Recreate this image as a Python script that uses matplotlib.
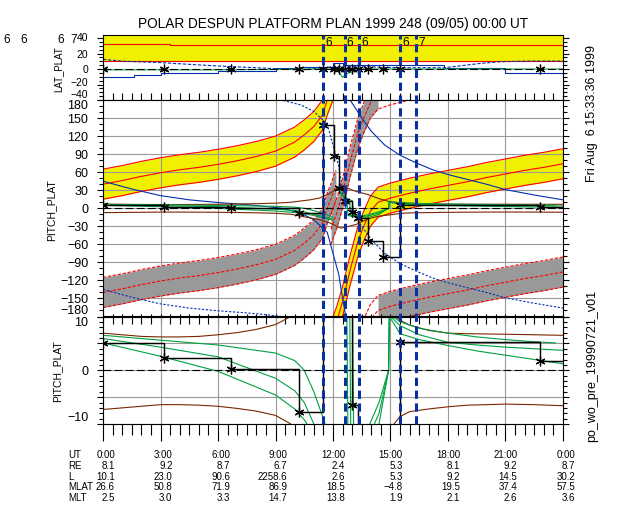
import matplotlib
matplotlib.use('Agg')
import matplotlib.pyplot as plt
import numpy as np
from matplotlib.lines import Line2D
from matplotlib.ticker import MultipleLocator
from matplotlib.transforms import ScaledTranslation

plt.rcParams['font.family'] = ['Liberation Sans', 'DejaVu Sans']

# ---- values (time axis in UT hours) ----
# platform pitch cone centre, two branches either side of the wrap near 12 UT
hours_A = [0, 1, 2, 3, 4, 5, 6, 7, 8, 9, 10, 10.5, 11, 11.45, 11.7, 12.0, 12.15]
centre_A = [40, 46, 53, 59, 64, 68, 73, 79, 86, 95, 110, 122, 136, 155, 180, 205, 218]
hours_B = [11.9, 12.0, 12.2, 12.5, 12.9, 13.3, 13.6, 13.95, 14.35, 15.0, 15.5, 16, 17,
           18, 19, 20, 21, 22, 23, 24]
centre_B = [-215, -205, -188, -155, -102, -55, -30, -5, 10, 17, 21, 25, 32,
            38, 44, 51, 57, 63, 68, 74]
half_width = 25
gray_split = 14.35

blue_tA = [0, 1.5, 3, 4.5, 6, 7.5, 8.5, 9.3, 10.3, 11.0, 11.7, 12.0, 12.3, 12.5, 12.7]
blue_A = [45, 32, 21, 14, 9.5, 6, 3, 0, -8, -19, -40, -75, -110, -150, -185]
blue_tB = [12.85, 13.2, 13.5, 14.0, 14.7, 15.5, 16.3, 17.2, 18, 19, 20, 21, 22.5, 24]
blue_B = [182, 165, 150, 128, 105, 88, 76, 64, 56, 48, 40, 31, 22, 14]

brown_t = [0, 1, 2, 3, 4, 5, 6, 7, 8, 9, 9.8, 10.3, 10.8, 11.3, 11.8, 12.2, 12.4, 12.7,
           13.2, 13.8, 14.4, 14.95, 15.5, 16, 17, 18, 19, 21, 22.5, 24]
brown_hi = [6.9, 6.6, 6.3, 6.2, 6.2, 6.3, 6.6, 7.0, 7.6, 8.5, 10, 12, 14, 17, 24, 33, 37, 34,
            28, 23, 16, 11, 9.3, 8.4, 7.4, 6.9, 6.8, 6.7, 6.6, 6.5]
brown_lo = [-7.3, -7.0, -6.7, -6.4, -6.4, -6.5, -6.7, -7.1, -7.6, -8.4, -10, -13, -16, -19,
            -24, -30, -33, -31, -27, -18, -13, -11, -8.6, -7.7, -7.2, -6.8, -6.5, -6.3, -6.4, -6.6]

green_tA = [0, 3, 6, 9, 10, 10.5, 11, 11.5, 12.0]
green1_A = [6.5, 5.6, 4.7, 3.2, 1.8, 0, -4, -9, -15]
green2_A = [5.9, 4.3, 2.5, -1.5, -3.8, -6, -10, -14, -18]
green3_A = [5.1, 2.6, -0.2, -4.6, -7.2, -9.2, -12, -16, -20]
green1_t = [12.3, 12.72, 12.78, 13.3, 13.8, 14.4, 14.9, 14.94, 15.5, 16.5, 18, 19.5, 21, 22.5, 23.6]
green1_v = [30, 12, -12, -16, -16, -10, 0, 10.5, 9.0, 7.8, 6.9, 6.2, 5.7, 5.3, 5.1]
green2_t = [12.4, 12.87, 12.93, 13.3, 13.8, 14.4, 14.9, 14.94, 15.5, 16.5, 18, 19.5, 21, 22.5, 24]
green2_v = [25, 12, -12, -14, -13, -8, 0, 10.2, 8.3, 6.6, 5.2, 4.7, 4.3, 4.0, 3.7]
green3_t = [12.5, 13.02, 13.08, 13.4, 13.8, 14.4, 14.9, 14.94, 15.5, 16.5, 18, 19.5, 21, 22.5, 24]
green3_v = [20, 12, -12, -13, -11, -6, 0, 10.0, 6.8, 5.7, 4.6, 3.6, 2.8, 2.0, 1.2]

mark_t = [0, 3.2, 6.7, 10.2, 11.5, 12.05, 12.33, 12.6, 13.0, 13.3, 13.8, 14.6, 15.5, 22.8]
mark_pitch = [5.1, 2.2, 0.3, -7.8, 139, 87, 33, 12, -6.4, -17, -55, -81, 5.2, 1.8]

# LAT_PLAT panel
lat_band = (10, 44)
lat_red_t = [0, 3.5, 3.5, 24]
lat_red_v = [32, 32, 31, 31]
lat_dash_t = [0, 1.1, 2.8, 5.1, 6.8, 8.6, 10.3, 12, 13.5, 15.5, 17.8, 19.7, 20.7, 22.1, 24]
lat_dash_v = [12.5, 10, 8.6, 5.2, 3, 1, -1.3, 3, 3, 1.7, 1.7, 7.3, 9.4, 10.3, 10.3]
lat_blue_t = [0, 1.6, 3, 6, 9, 10.3, 11.3, 12, 12.5, 15.5, 17.8, 21, 24]
lat_blue_v = [-10.7, -7.7, -5.6, -2.2, 1, 3, 3, 7.3, 5, 5.2, 0.9, -5.6, -6.5]
lat_green_t = [0, 6, 11, 12.2, 12.5, 12.8, 13.05, 13.5, 24]
lat_green_v = [-1, -1, 0, 0, -10.7, -5, -3.5, 0, 0]

event_t = [11.47, 12.6, 13.35, 15.5, 16.32]
event_lbl = ['6', '6', '6', '6', '7']

table_hours = [0, 3, 6, 9, 12, 15, 18, 21, 24]
table_rows = [
    ('UT', ['0:00', '3:00', '6:00', '9:00', '12:00', '15:00', '18:00', '21:00', '0:00']),
    ('RE', ['8.1', '9.2', '8.7', '6.7', '2.4', '5.3', '8.1', '9.2', '8.7']),
    ('L', ['10.1', '23.0', '90.6', '2258.6', '2.6', '5.3', '9.2', '14.5', '30.2']),
    ('MLAT', ['26.6', '50.8', '71.9', '86.9', '18.5', '\u22124.8', '19.5', '37.4', '57.5']),
    ('MLT', ['2.5', '3.0', '3.3', '14.7', '13.8', '1.9', '2.1', '2.6', '3.6']),
]

YEL = '#f0f000'
GRY = '#999999'
RED = '#ff0000'
BRN = '#7a2600'
GRN = '#00a040'
BLU = '#0030b0'
NAVY = '#0a2fa0'
LW = 0.8
TICK_FS = 9

W, H = 640, 512
fig = plt.figure(figsize=(6.4, 5.12), dpi=100, facecolor='white')


def add_ax(l, t, r, b):
    return fig.add_axes([l / W, 1 - b / H, (r - l) / W, (b - t) / H])


ax_top = add_ax(103, 35, 563, 100)
ax_mid = add_ax(103, 100, 563, 316.5)
ax_bot = add_ax(103, 316.5, 563, 424)

for ax in (ax_top, ax_mid, ax_bot):
    ax.set_xlim(0, 24)
    ax.xaxis.set_major_locator(MultipleLocator(3))
    ax.xaxis.set_minor_locator(MultipleLocator(0.5))
    ax.tick_params(axis='x', which='both', labelbottom=False, top=False)
    ax.tick_params(axis='y', which='both', right=True, direction='out',
                   labelsize=TICK_FS, pad=6)
    ax.tick_params(axis='y', which='major', length=4.5, width=LW)
    ax.tick_params(axis='y', which='minor', length=3, width=LW)
    for s in ax.spines.values():
        s.set_linewidth(LW)
    ax.axhline(0, color='k', lw=LW, dashes=(7, 3), zorder=3)

# ---- LAT_PLAT ----
ax_top.set_ylim(-40, 44)
ax_top.set_yticks([-40, -20, 0, 20, 40])
ax_top.yaxis.set_minor_locator(MultipleLocator(5))
ax_top.tick_params(axis='y', labelsize=7.5)
ax_top.tick_params(axis='x', which='both', direction='in', length=5, width=LW)
ax_top.axhspan(lat_band[0], lat_band[1], color=YEL, lw=0, zorder=1)
ax_top.axhline(lat_band[0], color=RED, lw=LW, zorder=2)
ax_top.plot(lat_red_t, lat_red_v, color=RED, lw=LW, zorder=2)
ax_top.plot(lat_dash_t, lat_dash_v, color=BLU, lw=LW, dashes=(3, 1.5), zorder=2)
ax_top.plot(lat_blue_t, lat_blue_v, color=BLU, lw=LW, drawstyle='steps-post', zorder=2)
ax_top.plot(lat_green_t, lat_green_v, color=GRN, lw=LW, zorder=2)
ax_top.plot(mark_t, np.zeros(len(mark_t)), ls='none', marker=(6, 2, 0), ms=7,
            mec='k', mew=0.9, zorder=4)


# ---- PITCH_PLAT (full range) ----
def band(ax, t, c, color, dashed=False, keep=None):
    t = np.asarray(t, float)
    c = np.asarray(c, float)
    m = np.ones(len(t), bool) if keep is None else keep(t)
    ax.fill_between(t[m], c[m] - half_width, c[m] + half_width, color=color, lw=0, zorder=1)
    st = dict(color=RED, lw=LW, zorder=2)
    if dashed:
        st['dashes'] = (3, 1.5)
    for off in (-half_width, 0, half_width):
        ax.plot(t, c + off, **st)


cA = np.array(centre_A, float)
cB = np.array(centre_B, float)
band(ax_mid, hours_A, cA, YEL)
band(ax_mid, hours_B, cB, YEL)
band(ax_mid, hours_A, cA - 180, GRY, dashed=True)
band(ax_mid, hours_B, cB + 180, GRY, dashed=True, keep=lambda t: t <= gray_split)
band(ax_mid, hours_B, cB - 180, GRY, dashed=True, keep=lambda t: t >= gray_split)

bA = np.array(blue_A, float)
bB = np.array(blue_B, float)
ax_mid.plot(blue_tA, bA, color=BLU, lw=LW, zorder=2)
ax_mid.plot(blue_tB, bB, color=BLU, lw=LW, zorder=2)
for t, v in ((blue_tA, bA - 180), (blue_tA, bA + 180), (blue_tB, bB - 180)):
    ax_mid.plot(t, v, color=BLU, lw=LW, dashes=(2, 1.5), zorder=2)

ax_mid.set_ylim(-180, 180)
ax_mid.set_yticks(np.arange(-180, 181, 30))
ax_mid.yaxis.set_minor_locator(MultipleLocator(10))
ax_mid.tick_params(axis='x', which='both', direction='in', length=2.5, width=LW)

# ---- PITCH_PLAT (zoomed) ----
ax_bot.set_ylim(-10, 10)
ax_bot.set_yticks([-10, -5, 0, 5, 10])
ax_bot.set_yticklabels(['\u221210', '', '0', '', '10'])
ax_bot.yaxis.set_minor_locator(MultipleLocator(1))
ax_bot.tick_params(axis='x', which='major', direction='out', length=12, width=LW)
ax_bot.tick_params(axis='x', which='minor', direction='out', length=8, width=LW)
sec = ax_bot.secondary_xaxis('top')
sec.xaxis.set_major_locator(MultipleLocator(3))
sec.xaxis.set_minor_locator(MultipleLocator(0.5))
sec.tick_params(axis='x', which='both', direction='in', length=5.5, width=LW, labeltop=False)
sec.spines['top'].set_linewidth(LW)

for ax in (ax_mid, ax_bot):
    ax.grid(True, which='major', color=GRY, lw=LW)
    ax.set_axisbelow('line')
    ax.plot(brown_t, brown_hi, color=BRN, lw=LW, zorder=2)
    ax.plot(brown_t, brown_lo, color=BRN, lw=LW, zorder=2)
    for v in (green1_A, green2_A, green3_A):
        ax.plot(green_tA, v, color=GRN, lw=LW, zorder=2)
    for t, v in ((green1_t, green1_v), (green2_t, green2_v), (green3_t, green3_v)):
        ax.plot(t, v, color=GRN, lw=LW, zorder=2)
    ax.plot(mark_t + [24], mark_pitch + mark_pitch[-1:], color='k', lw=LW * 1.3,
            drawstyle='steps-post', zorder=3)
    ax.plot(mark_t, mark_pitch, ls='none', marker=(6, 2, 0), ms=7, mec='k', mew=0.9, zorder=4)

# tick labels at the panel joins sit inside their own panel
for ax, first, last in ((ax_top, 'bottom', 'center'), (ax_mid, 'bottom', 'top'),
                        (ax_bot, 'bottom', 'top')):
    ticks = ax.yaxis.get_major_ticks()
    ticks[0].label1.set_verticalalignment(first)
    ticks[-1].label1.set_verticalalignment(last)
# nudge the crowded -20 label of the LAT panel up a little
lab = ax_top.yaxis.get_major_ticks()[1].label1
lab.set_transform(lab.get_transform() + ScaledTranslation(0, 1.5 / 72, fig.dpi_scale_trans))

# event markers spanning all three panels
fig.canvas.draw()
inv = fig.transFigure.inverted()
y_hi = inv.transform(ax_top.transAxes.transform((0, 1)))[1]
y_lo = inv.transform(ax_bot.transAxes.transform((0, 0)))[1]
for t, lbl in zip(event_t, event_lbl):
    xf = inv.transform(ax_bot.transData.transform((t, 0)))[0]
    fig.add_artist(Line2D([xf, xf], [y_lo, y_hi], color=NAVY, lw=2.2,
                          dashes=(2.7, 1.5), transform=fig.transFigure, zorder=10))
    ax_top.annotate(lbl, xy=(t, 1), xycoords=('data', 'axes fraction'), xytext=(1.5, -1.5),
                    textcoords='offset points', va='top', ha='left', fontsize=8.5, zorder=11)

# stray labels of events left of the plot
for px, s in ((3, '6'), (20, '6'), (57, '6'), (70, '7')):
    fig.text(px / W, 1 - 40 / H, s, fontsize=8.5, ha='left', va='center')

fig.text(58 / W, 1 - 69 / H, 'LAT_PLAT', rotation=90, fontsize=7, ha='center', va='center')
fig.text(51 / W, 1 - 210 / H, 'PITCH_PLAT', rotation=90, fontsize=7.5,
         ha='center', va='center')
fig.text(57 / W, 1 - 371 / H, 'PITCH_PLAT', rotation=90, fontsize=7.5,
         ha='center', va='center')

fig.text(333 / W, 1 - 24 / H, 'POLAR DESPUN PLATFORM PLAN 1999 248 (09/05) 00:00 UT',
         fontsize=9.8, ha='center', va='center')
fig.text(592 / W, 1 - 114 / H, 'Fri Aug  6 15:33:36 1999', rotation=90, fontsize=9,
         ha='center', va='center')
fig.text(592 / W, 1 - 366 / H, 'po_wo_pre_19990721_v01', rotation=90, fontsize=9,
         ha='center', va='center')

# ephemeris table under the time axis
row_y = [455, 466, 477, 487.5, 498]
for (name, vals), y in zip(table_rows, row_y):
    fig.text(68 / W, 1 - y / H, name, fontsize=7, ha='left', va='center')
    for h, s in zip(table_hours, vals):
        xp = inv.transform(ax_bot.transData.transform((h, 0)))[0] + 12 / W
        fig.text(xp, 1 - y / H, s, fontsize=7, ha='right', va='center')

fig.savefig('out.png', dpi=100, facecolor='white')
